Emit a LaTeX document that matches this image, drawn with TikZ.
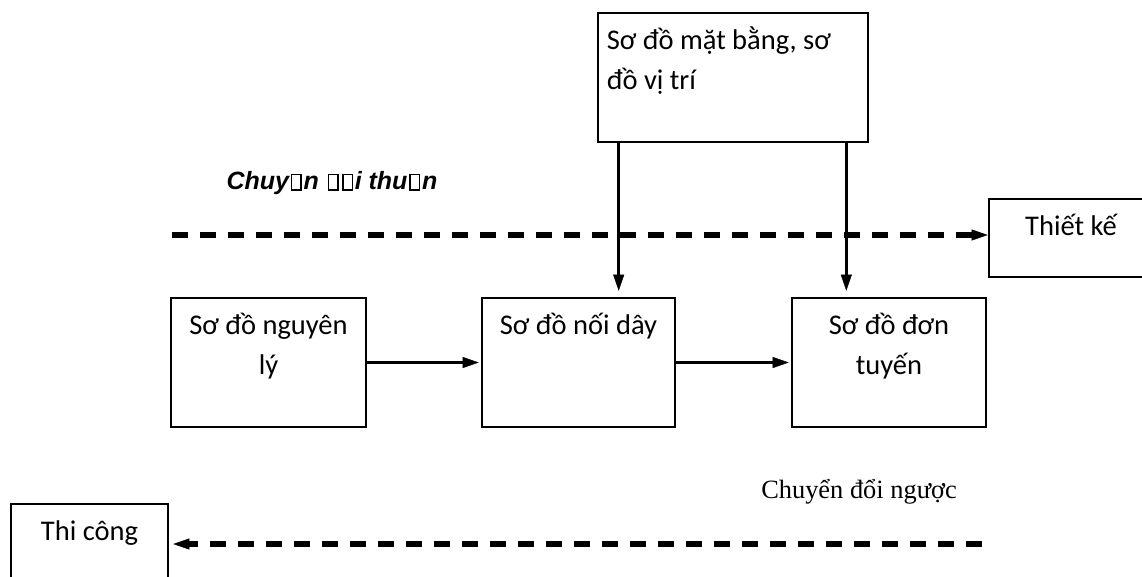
\documentclass[tikz,border=0pt]{standalone}
\usepackage{fontspec}
\usepackage{tikz}
\usetikzlibrary{arrows.meta,calc,positioning}
\newfontfamily\calib{Carlito}
\newfontfamily\arialf{Liberation Sans}
\newfontfamily\timesf{Liberation Serif}
% glyph box as the reference prints it
\newcommand\nogl{\kern0.07em{\setlength\fboxsep{0pt}\setlength\fboxrule{0.06em}\fbox{\rule{0pt}{0.56em}\hspace{0.32em}}}\kern0.07em}
\newcommand\tstrut{\rule{0pt}{30pt}}

\begin{document}
\begin{tikzpicture}[x=1pt,y=-1pt,>={Triangle[length=16pt,width=11pt,line width=0.4pt]},
  box/.style={draw,line width=2.6pt,inner sep=0pt},
  boxtext/.style={font=\calib\fontsize{28.5}{40}\selectfont,align=center,inner sep=0pt,anchor=north},
  flow/.style={->,line width=3pt},
  conv/.style={->,line width=5.5pt,dash pattern=on 16pt off 12pt}]
  \clip (0,0) rectangle (1142,576);
  % boxes
  \node[box,minimum width=270pt,minimum height=129pt] (plan) at (733,77.5) {};
  \node[box,minimum width=195pt,minimum height=129pt] (nguyenly) at (268.5,362.5) {};
  \node[box,minimum width=193pt,minimum height=129pt] (noiday) at (578.5,362.5) {};
  \node[box,minimum width=194pt,minimum height=129pt] (dontuyen) at (889,362.5) {};
  \node[box,minimum width=164pt,minimum height=78pt] (thietke) at (1071,238) {};
  \node[box,minimum width=157pt,minimum height=80pt] (thicong) at (89.5,544) {};
  % texts
  \node[boxtext,anchor=north west,align=left] (plan-t) at ([xshift=10pt,yshift=-8pt]plan.north west) {\tstrut Sơ đồ mặt bằng, sơ\\đồ vị trí};
  \node[boxtext] (nguyenly-t) at ([yshift=-8pt]nguyenly.north) {\tstrut Sơ đồ nguyên\\lý};
  \node[boxtext] (noiday-t) at ([yshift=-8pt]noiday.north) {\tstrut Sơ đồ nối dây};
  \node[boxtext] (dontuyen-t) at ([yshift=-8pt]dontuyen.north) {\tstrut Sơ đồ đơn\\tuyến};
  \node[boxtext] (thietke-t) at ([yshift=-8pt]thietke.north) {\tstrut Thiết kế};
  \node[boxtext] (thicong-t) at ([yshift=-8pt]thicong.north) {\tstrut Thi công};
  \node[font=\arialf\bfseries\itshape\fontsize{25}{30}\selectfont,anchor=west] (thuan) at (223,183) {Chuy\nogl n \nogl\nogl i thu\nogl n};
  \node[font=\timesf\fontsize{26.4}{30}\selectfont] (nguoc) at (859,492) {Chuyển đổi ngược};
  % arrows
  \coordinate (drop1) at ([xshift=22pt]plan.south west);
  \coordinate (drop2) at ([xshift=-23pt]plan.south east);
  \draw[flow,shorten >=6pt] (drop1) -- (drop1 |- noiday.north);
  \draw[flow,shorten >=6pt] (drop2) -- (drop2 |- dontuyen.north);
  \draw[flow,shorten >=2pt] (nguyenly) -- (noiday);
  \draw[flow,shorten >=2pt] (noiday) -- (dontuyen);
  \coordinate (fwd) at (172,235);
  \draw[conv] (fwd) -- (fwd -| thietke.west);
  \coordinate (bwd) at (982,544);
  \draw[conv,shorten >=4pt] (bwd) -- (thicong.east);
\end{tikzpicture}
\end{document}
